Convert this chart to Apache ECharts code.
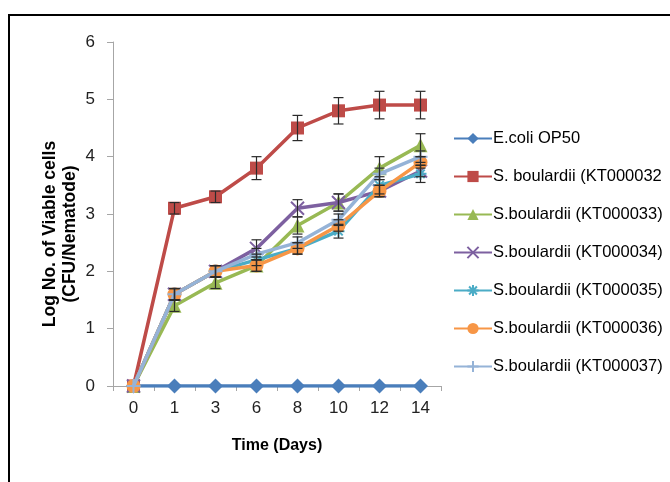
<!DOCTYPE html>
<html><head><meta charset="utf-8">
<script src="https://cdn.jsdelivr.net/npm/echarts@6/dist/echarts.min.js"></script>
<style>html,body{margin:0;padding:0;background:#fff}#c{width:670px;height:482px}</style>
</head><body><div id="c"></div>
<script>
// ---- data ----
const days = ['0', '1', '3', '6', '8', '10', '12', '14'];
const names = ['E.coli OP50', 'S. boulardii (KT000032', 'S.boulardii (KT000033)', 'S.boulardii (KT000034)',
  'S.boulardii (KT000035)', 'S.boulardii (KT000036)', 'S.boulardii (KT000037)'];
const ecoli = [0, 0, 0, 0, 0, 0, 0, 0];
const kt32 = [0, 3.1, 3.3, 3.8, 4.5, 4.8, 4.9, 4.9];
const kt33 = [0, 1.4, 1.8, 2.1, 2.8, 3.2, 3.8, 4.2];
const kt34 = [0, 1.6, 2.0, 2.4, 3.1, 3.2, 3.4, 3.75];
const kt35 = [0, 1.6, 2.0, 2.2, 2.4, 2.7, 3.5, 3.7];
const kt36 = [0, 1.6, 2.0, 2.1, 2.4, 2.8, 3.4, 3.9];
const kt37 = [0, 1.6, 2.0, 2.3, 2.5, 2.9, 3.7, 4.0];
const kt32Err = [0, 0.1, 0.1, 0.2, 0.22, 0.23, 0.24, 0.24];
const kt33Err = [0, 0.1, 0.1, 0.1, 0.15, 0.15, 0.2, 0.2];
const kt34Err = [0, 0.1, 0.1, 0.15, 0.15, 0.15, 0.1, 0.1];
const kt35Err = [0, 0.1, 0.1, 0.1, 0.1, 0.12, 0.15, 0.15];
const kt36Err = [0, 0.1, 0.1, 0.1, 0.1, 0.1, 0.1, 0.1];
const kt37Err = [0, 0.1, 0.1, 0.1, 0.1, 0.1, 0.1, 0.1];
const yMin = 0, yMax = 6, yStep = 1;

// ---- styles ----
const F = '"Liberation Sans",Arial,sans-serif';
const colors = ['#4A7EBB', '#BE4B48', '#98B954', '#7D60A0', '#4BACC6', '#F79646', '#95B3D7'];
const symbols = ['diamond', 'rect', 'triangle',
  'path://M0,0L10,10M10,0L0,10',
  'path://M5,0L5,10M0,5L10,5M1.5,1.5L8.5,8.5M8.5,1.5L1.5,8.5',
  'circle',
  'path://M5,0L5,10M0,5L10,5'];
const strokeSym = [false, false, false, true, true, false, true];
const sizes = [15, 13, 14, 13, 12, 14, 14];
const values = [ecoli, kt32, kt33, kt34, kt35, kt36, kt37];
const errs = [null, kt32Err, kt33Err, kt34Err, kt35Err, kt36Err, kt37Err];

const series = [];
values.forEach((v, i) => {
  series.push({
    name: names[i], type: 'line', data: v, symbol: symbols[i], symbolSize: sizes[i],
    showAllSymbol: true, z: 2 + i,
    lineStyle: { color: colors[i], width: 3.5 },
    itemStyle: strokeSym[i]
      ? { color: colors[i], borderColor: colors[i], borderWidth: 2 }
      : { color: colors[i], borderWidth: 0 },
    emphasis: { disabled: true }
  });
});
errs.forEach((e, i) => {
  if (!e) return;
  series.push({
    type: 'custom', silent: true, z: 20,
    data: values[i].map((v, k) => [k, v, e[k]]),
    renderItem: function (params, api) {
      const x = api.value(0), y = api.value(1), d = api.value(2);
      if (!d) return null;
      const top = api.coord([x, y + d]);
      const bot = api.coord([x, y - d]);
      const w = 5;
      const st = { stroke: '#2b2b2b', lineWidth: 1.2 };
      return { type: 'group', children: [
        { type: 'line', shape: { x1: top[0], y1: top[1], x2: bot[0], y2: bot[1] }, style: st },
        { type: 'line', shape: { x1: top[0] - w, y1: top[1], x2: top[0] + w, y2: top[1] }, style: st },
        { type: 'line', shape: { x1: bot[0] - w, y1: bot[1], x2: bot[0] + w, y2: bot[1] }, style: st }
      ]};
    }
  });
});

const chart = echarts.init(document.getElementById('c'));
chart.setOption({
  animation: false,
  backgroundColor: '#fff',
  grid: { left: 113, right: 229, top: 42, bottom: 96, containLabel: false, outerBoundsMode: 'none' },
  xAxis: {
    type: 'category', data: days, boundaryGap: true,
    name: 'Time (Days)', nameLocation: 'middle', nameGap: 52,
    nameTextStyle: { fontFamily: F, fontWeight: 'bold', fontSize: 16, color: '#000' },
    axisLine: { lineStyle: { color: '#A6A6A6', width: 1 } },
    axisTick: { show: true, alignWithLabel: false, length: 5, lineStyle: { color: '#A6A6A6' } },
    axisLabel: { fontFamily: F, fontSize: 17, color: '#222', margin: 14 },
    splitLine: { show: false }
  },
  yAxis: {
    type: 'value', min: yMin, max: yMax, interval: yStep,
    axisLine: { show: true, lineStyle: { color: '#A6A6A6', width: 1 } },
    axisTick: { show: true, length: 6, lineStyle: { color: '#A6A6A6' } },
    axisLabel: { fontFamily: F, fontSize: 17, color: '#222', margin: 18 },
    splitLine: { show: false }
  },
  legend: {
    orient: 'vertical', left: 448, top: 125, itemGap: 21, itemWidth: 38, itemHeight: 14,
    data: names,
    textStyle: { fontFamily: F, fontSize: 16.5, color: '#000', padding: [0, 0, 0, -4] },
    selectedMode: false
  },
  graphic: [
    { type: 'line', shape: { x1: 8, y1: 15, x2: 670, y2: 15 }, style: { stroke: '#000', lineWidth: 2 }, z: 100 },
    { type: 'line', shape: { x1: 9, y1: 15, x2: 9, y2: 482 }, style: { stroke: '#000', lineWidth: 2 }, z: 100 },
    { type: 'text', x: 60, y: 234, rotation: Math.PI / 2, z: 100,
      style: { text: 'Log No. of Viable cells\n(CFU/Nematode)', fontFamily: F, fontWeight: 'bold', fontSize: 17.5,
        fill: '#000', align: 'center', verticalAlign: 'middle', lineHeight: 20 } }
  ],
  series: series
});
</script>
</body></html>
